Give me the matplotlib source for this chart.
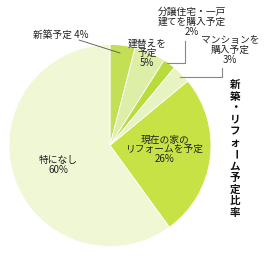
import matplotlib
matplotlib.use("Agg")
import matplotlib.pyplot as plt

plt.rcParams['font.family'] = ['Noto Sans CJK JP', 'DejaVu Sans']

categories = ["新築予定", "建替えを予定", "分譲住宅・一戸建てを購入予定",
              "マンションを購入予定", "現在の家のリフォームを予定", "特になし"]
values = [4, 5, 2, 3, 26, 60]
colors = ["#c2df55", "#ddefa6", "#b8dc3c", "#e7f4c2", "#c6e244", "#eff7d4"]
title_text = "新築・リフォーム予定比率"

H = 259
def Y(y):
    return H - y

fig = plt.figure(figsize=(2.65, 2.59), dpi=100)
ax = fig.add_axes([0, 0, 1, 1])
ax.pie(values, colors=colors, startangle=90, counterclock=False,
       center=(110, Y(145.5)), radius=101, frame=True,
       wedgeprops=dict(edgecolor="white", linewidth=0.6))
ax.set_xlim(0, 265)
ax.set_ylim(0, H)
ax.set_aspect('auto')
ax.axis('off')

fs = 7
tc = "#222222"
ls = 0.95
ax.text(33, Y(35), f"{categories[0]} {values[0]}%", fontsize=fs, color=tc, ha="left", va="center")
ax.plot([79, 120], [Y(40), Y(53)], color="#555555", lw=0.6)
ax.text(147, Y(53), f"建替えを\n予定\n{values[1]}%", fontsize=fs, color=tc, ha="center", va="center", linespacing=ls)
ax.text(192, Y(22), f"分譲住宅・一戸\n建てを購入予定\n{values[2]}%", fontsize=fs, color=tc, ha="center", va="center", linespacing=ls)
ax.plot([185, 185, 167], [Y(41), Y(63), Y(63)], color="#888888", lw=0.8)
ax.text(230, Y(50), f"マンションを\n購入予定\n{values[3]}%", fontsize=fs, color=tc, ha="center", va="center", linespacing=ls)
ax.plot([222, 222, 180], [Y(68), Y(77), Y(77)], color="#888888", lw=0.8)
ax.text(165, Y(149), f"現在の家の\nリフォームを予定\n{values[4]}%", fontsize=fs, color=tc, ha="center", va="center", linespacing=ls)
ax.text(58, Y(165), f"特になし\n{values[5]}%", fontsize=fs, color=tc, ha="center", va="center", linespacing=ls)

y0, step = 85, 11.6
for i, ch in enumerate(title_text):
    rot = -90 if ch == "ー" else 0
    ax.text(235, Y(y0 + i * step), ch, fontsize=7.6, fontweight="bold", color="#111111",
            ha="center", va="center", rotation=rot)

fig.savefig("out.png", dpi=100)
